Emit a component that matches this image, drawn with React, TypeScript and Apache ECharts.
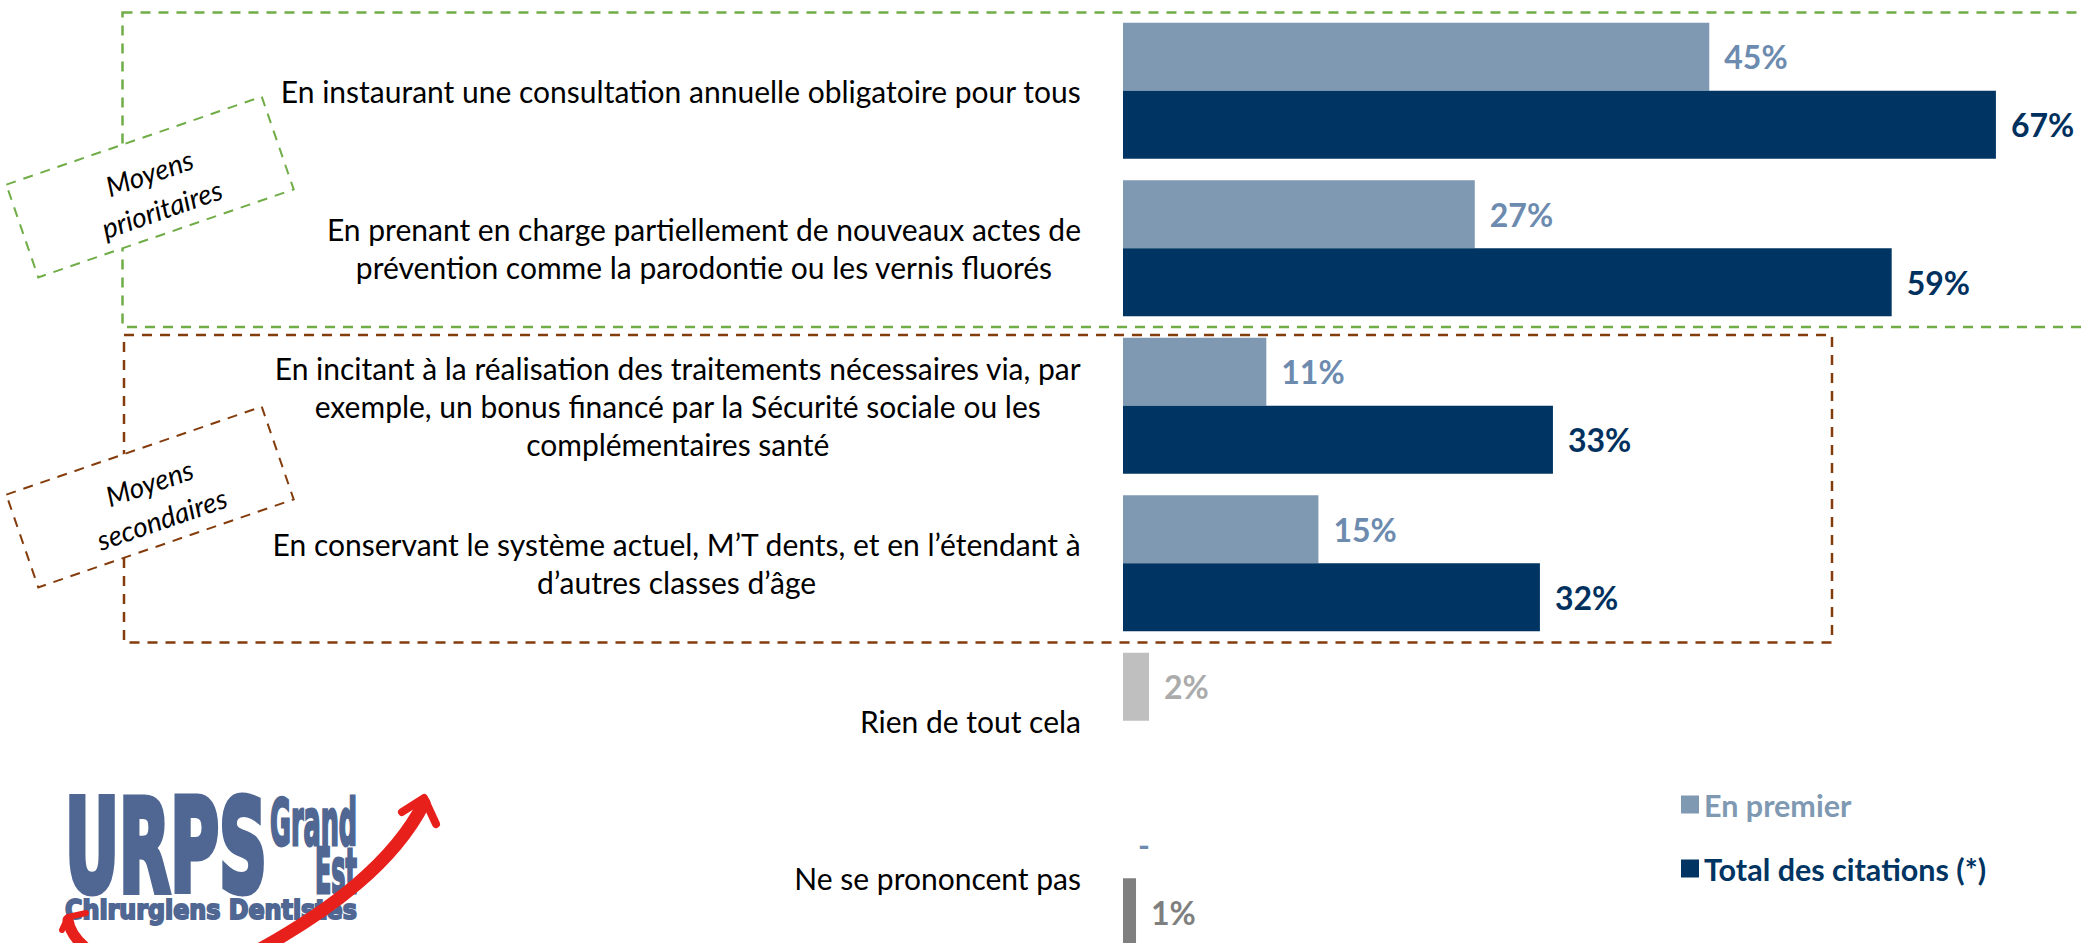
import React, { useEffect, useRef } from 'react';
import * as echarts from 'echarts';

const categories = [
  'En instaurant une consultation annuelle obligatoire pour tous',
  'En prenant en charge partiellement de nouveaux actes de\nprévention comme la parodontie ou les vernis fluorés',
  'En incitant à la réalisation des traitements nécessaires via, par\nexemple, un bonus financé par la Sécurité sociale ou les\ncomplémentaires santé',
  'En conservant le système actuel, M’T dents, et en l’étendant à\nd’autres classes d’âge',
  'Rien de tout cela',
  'Ne se prononcent pas',
];
const seriesNames = ['En premier', 'Total des citations (*)'];
const enPremier: (number | null)[] = [45, 27, 11, 15, 2, 0];
const totalCitations: (number | null)[] = [67, 59, 33, 32, null, 1];
const groupLabels = ['Moyens\nprioritaires', 'Moyens\nsecondaires'];
const logoTexts = ['URPS', 'Grand', 'Est', 'Chirurgiens Dentistes'];

const LIGHT = '#7F99B2';
const LIGHT_LABEL = '#6C8BAF';
const DARK = '#003462';
const DARK_LABEL = '#00305E';
const GREY = '#BFBFBF';
const GREY_LABEL = '#ABABAB';
const DGREY = '#7F7F7F';
const GREEN = '#70AD47';
const BROWN = '#843C0C';
const LOGO = '#4F6792';
const RED = '#E8201C';

function measure(text: string, font: string): number {
  const c = document.createElement('canvas').getContext('2d');
  if (!c) return text.length * 10;
  c.font = font;
  return c.measureText(text).width;
}

function logoText(text: string, left: number, cy: number, size: number, targetW: number, strokeW: number) {
  const font = `bold ${size}px "DejaVu Sans"`;
  const w = measure(text, font);
  return {
    type: 'text',
    x: left,
    y: cy,
    scaleX: targetW / w,
    style: {
      text,
      fontFamily: 'DejaVu Sans',
      fontWeight: 'bold',
      fontSize: size,
      fill: LOGO,
      stroke: LOGO,
      lineWidth: strokeW,
      align: 'left',
      verticalAlign: 'middle',
    },
  };
}

function tiltedBox(cx: number, cy: number, label: string, color: string) {
  return {
    type: 'group',
    x: cx,
    y: cy,
    rotation: (19 * Math.PI) / 180,
    children: [
      {
        type: 'rect',
        shape: { x: -135, y: -49, width: 270, height: 98 },
        style: { fill: '#ffffff', stroke: color, lineWidth: 2, lineDash: [10, 8] },
      },
      {
        type: 'text',
        x: 4,
        y: 5,
        style: {
          text: label,
          fontFamily: 'Lato',
          fontStyle: 'italic',
          fontSize: 28,
          lineHeight: 38,
          fill: '#000000',
          align: 'center',
          verticalAlign: 'middle',
        },
      },
    ],
  };
}

export default function App() {
  const ref = useRef<HTMLDivElement>(null);

  useEffect(() => {
    if (!ref.current) return;
    const chart = echarts.init(ref.current, undefined, { renderer: 'svg' });

    const labelBase = {
      show: true,
      position: 'right',
      distance: 15,
      fontFamily: 'Lato',
      fontWeight: 'bold',
      fontSize: 32,
      formatter: (p: any) => (p.value === 0 ? '-' : `${p.value}%`),
    };

    const s1 = enPremier.map((v, i) =>
      i === 4 ? { value: v, itemStyle: { color: GREY }, label: { color: GREY_LABEL } } : v
    );
    const s2 = totalCitations.map((v, i) =>
      i === 5 ? { value: v, itemStyle: { color: DGREY }, label: { color: DGREY } } : v
    );

    const option: any = {
      animation: false,
      backgroundColor: '#ffffff',
      grid: { left: 1123, top: 12, width: 912, height: 945, containLabel: false },
      xAxis: { type: 'value', min: 0, max: 70, show: false },
      yAxis: {
        type: 'category',
        inverse: true,
        data: categories,
        axisLine: { show: false },
        axisTick: { show: false },
        splitLine: { show: false },
        axisLabel: {
          margin: 42,
          align: 'right',
          formatter: (v: string) =>
            v
              .split('\n')
              .map((l) => `{c|${l}}`)
              .join('\n'),
          rich: {
            c: {
              align: 'center',
              fontFamily: 'Lato',
              fontSize: 30,
              lineHeight: 38,
              color: '#000000',
            },
          },
        },
      },
      legend: {
        orient: 'vertical',
        left: 1676,
        top: 784,
        itemWidth: 18,
        itemHeight: 18,
        itemGap: 33,
        icon: 'rect',
        selectedMode: false,
        textStyle: { fontFamily: 'Lato', fontWeight: 'bold', fontSize: 30.5 },
        data: [
          { name: seriesNames[0], textStyle: { color: LIGHT } },
          { name: seriesNames[1], textStyle: { color: DARK } },
        ],
      },
      series: [
        {
          name: seriesNames[0],
          type: 'bar',
          data: s1,
          barWidth: 68,
          barGap: '0%',
          itemStyle: { color: LIGHT },
          label: { ...labelBase, color: LIGHT_LABEL },
        },
        {
          name: seriesNames[1],
          type: 'bar',
          data: s2,
          barWidth: 68,
          barGap: '0%',
          itemStyle: { color: DARK },
          label: { ...labelBase, color: DARK_LABEL },
        },
      ],
      graphic: [
        {
          type: 'rect',
          shape: { x: 122.5, y: 12.5, width: 2100, height: 314.5 },
          style: { fill: 'none', stroke: GREEN, lineWidth: 2.5, lineDash: [10, 8] },
        },
        {
          type: 'rect',
          shape: { x: 124, y: 335, width: 1708, height: 307.5 },
          style: { fill: 'none', stroke: BROWN, lineWidth: 2.5, lineDash: [10, 8] },
        },
        tiltedBox(150, 187, groupLabels[0], GREEN),
        tiltedBox(150, 497, groupLabels[1], BROWN),
        logoText(logoTexts[0], 65, 846, 128, 202, 7),
        logoText(logoTexts[1], 270, 823, 64, 87, 3),
        logoText(logoTexts[2], 315, 871, 62, 42, 3),
        logoText(logoTexts[3], 65, 909, 27, 292, 2),
        {
          type: 'bezierCurve',
          shape: { x1: 240, y1: 960, cpx1: 335, cpy1: 910, cpx2: 395, cpy2: 860, x2: 424, y2: 803 },
          style: { stroke: RED, lineWidth: 13, fill: 'none', lineCap: 'round' },
        },
        {
          type: 'polyline',
          shape: { points: [[402, 812], [424, 798], [436, 824]] },
          style: { stroke: RED, lineWidth: 8, fill: 'none', lineCap: 'round', lineJoin: 'round' },
        },
        {
          type: 'bezierCurve',
          shape: { x1: 68, y1: 920, cpx1: 70, cpy1: 935, cpx2: 82, cpy2: 947, x2: 100, y2: 958 },
          style: { stroke: RED, lineWidth: 11, fill: 'none', lineCap: 'round' },
        },
        {
          type: 'polyline',
          shape: { points: [[62, 930], [68, 917], [86, 913]] },
          style: { stroke: RED, lineWidth: 6, fill: 'none', lineCap: 'round', lineJoin: 'round' },
        },
      ],
    };

    chart.setOption(option);
    return () => chart.dispose();
  }, []);

  return (
    <div style={{ position: 'absolute', left: 0, top: 0, width: 2084, height: 943, overflow: 'hidden', background: '#fff' }}>
      <div ref={ref} style={{ width: 2084, height: 970 }} />
    </div>
  );
}
